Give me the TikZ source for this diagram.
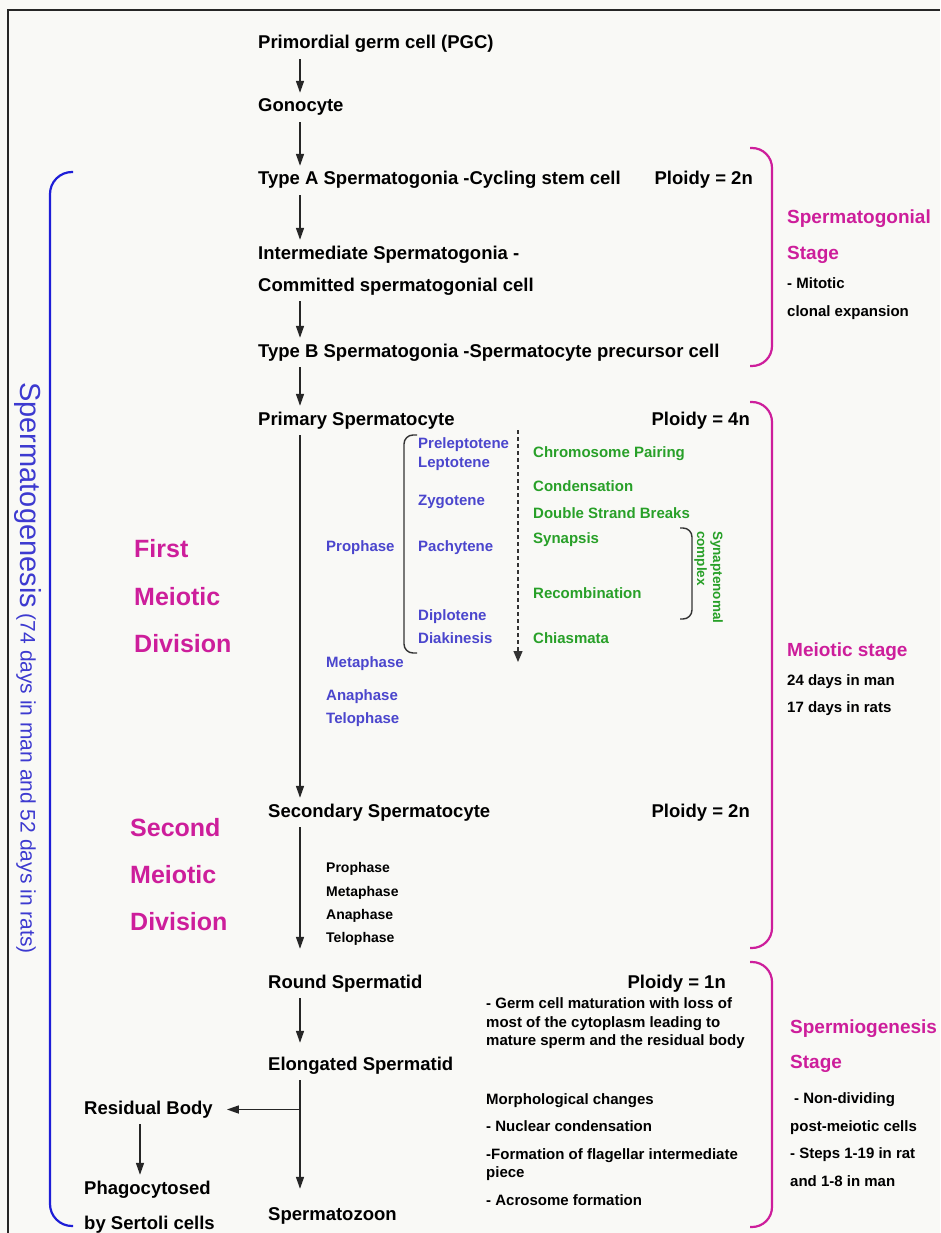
\documentclass[tikz,border=0pt]{standalone}
\usepackage{fontspec}
\setmainfont{Liberation Sans}
\usetikzlibrary{arrows.meta,calc}

\definecolor{stagepink}{RGB}{205,30,155}
\definecolor{phaseblue}{RGB}{75,70,205}
\definecolor{eventgreen}{RGB}{40,160,40}
\definecolor{spanblue}{RGB}{30,30,215}
\definecolor{paper}{RGB}{249,249,246}

\begin{document}
\begin{tikzpicture}[x=1pt,y=-1pt,
  arr/.style={draw=black!85,line width=1.5pt,-{Triangle[length=12pt,width=8pt]},shorten <=4pt,shorten >=4pt},
  cell/.style={anchor=base west,inner xsep=0pt,inner ysep=2pt,text height=13pt,text depth=4pt,font=\fontsize{18.5}{20}\selectfont\bfseries},
  ploidy/.style={cell,anchor=base east},
  phase/.style={anchor=base west,inner sep=0pt,text=phaseblue,font=\fontsize{15}{17}\selectfont\bfseries},
  event/.style={phase,text=eventgreen},
  note/.style={anchor=base west,inner sep=0pt,font=\fontsize{15}{17}\selectfont\bfseries},
  division/.style={anchor=base west,inner sep=0pt,text=stagepink,font=\fontsize{25}{28}\selectfont\bfseries},
  stage/.style={anchor=base west,inner sep=0pt,text=stagepink,font=\fontsize{19}{21}\selectfont\bfseries},
  stagebrace/.style={draw=stagepink,line width=2.2pt,rounded corners=20pt},
  thinbrace/.style={draw=black!80,line width=1.4pt,rounded corners=9pt},
]
  \fill[paper] (0,0) rectangle (940,1233);
  \useasboundingbox (0,0) rectangle (940,1233);
  \draw[line width=2pt,black!85] (8,1233) -- (8,10) -- (940,10);

  % main line of cells
  \node[cell] (pgc) at (258,49) {Primordial germ cell (PGC)};
  \node[cell] (gono) at (258,112) {Gonocyte};
  \node[cell] (typeA) at (258,185) {Type A Spermatogonia -Cycling stem cell};
  \node[ploidy] (ploidyA) at (753,185) {Ploidy = 2n};
  \node[cell] (inter) at (258,259) {Intermediate Spermatogonia -};
  \node[cell] (commit) at (258,291) {Committed spermatogonial cell};
  \node[cell] (typeB) at (258,357) {Type B Spermatogonia -Spermatocyte precursor cell};
  \node[cell] (prim) at (258,425) {Primary Spermatocyte};
  \node[ploidy] (ploidyP) at (750,425) {Ploidy = 4n};
  \node[cell] (sec) at (268,817) {Secondary Spermatocyte};
  \node[ploidy] (ploidyS) at (750,817) {Ploidy = 2n};
  \node[cell] (round) at (268,988) {Round Spermatid};
  \node[ploidy] (ploidyR) at (726,988) {Ploidy = 1n};
  \node[cell] (elong) at (268,1070) {Elongated Spermatid};
  \node[cell] (sperm) at (268,1220) {Spermatozoon};
  \node[cell] (resid) at (84,1114) {Residual Body};
  \node[cell] (phago) at (84,1194) {Phagocytosed};
  \node[cell] (phagob) at (84,1229) {by Sertoli cells};

  \coordinate (ax) at (300,0);
  \draw[arr] (ax |- pgc.south) -- (ax |- gono.north);
  \draw[arr] (ax |- gono.south) -- (ax |- typeA.north);
  \draw[arr] (ax |- typeA.south) -- (ax |- inter.north);
  \draw[arr] (ax |- commit.south) -- (ax |- typeB.north);
  \draw[arr] (ax |- typeB.south) -- (ax |- prim.north);
  \draw[arr] (ax |- prim.south) -- (ax |- sec.north);
  \draw[arr,shorten >=24pt] (ax |- sec.south) -- (ax |- round.north);
  \draw[arr,shorten >=12pt] (ax |- round.south) -- (ax |- elong.north);
  \draw[arr,shorten >=16pt] (ax |- elong.south) -- (ax |- sperm.north);
  \coordinate (branch) at (ax |- resid.east);
  \draw[arr,shorten <=0pt,shorten >=14pt] (branch) -- (resid.east);
  \coordinate (rx) at (140,0);
  \draw[arr] (rx |- resid.south) -- (rx |- phago.north);

  % first meiotic division
  \foreach \w/\y [count=\i] in {Preleptotene/448,Leptotene/467,Zygotene/505,Pachytene/551,Diplotene/620,Diakinesis/643}
    \node[phase] (sub\i) at (418,\y) {\w};
  \node[phase] (proph) at (326,551) {Prophase};
  \foreach \w/\y [count=\i] in {Metaphase/667,Anaphase/700,Telophase/723}
    \node[phase] (late\i) at (326,\y) {\w};
  \foreach \w/\y [count=\i] in {Chromosome Pairing/457,Condensation/491,Double Strand Breaks/518,Synapsis/543,Recombination/598,Chiasmata/643}
    \node[event] (ev\i) at (533,\y) {\w};
  \draw[thinbrace] (417,435) -| (404,544) |- (417,653);
  \draw[thinbrace] (680,528) -| (692,573) |- (680,619);
  \node[rotate=-90,anchor=north west,align=left,inner sep=0pt,text=eventgreen,font=\fontsize{13.5}{16}\selectfont\bfseries] (synlabel) at (723,531) {Synaptenomal\\complex};
  \coordinate (dtop) at (518,430);
  \coordinate (dbot) at (518,662);
  \draw[black!80,line width=1.3pt,dash pattern=on 4pt off 3pt,-{Triangle[length=11pt,width=9pt]}] (dtop) -- (dbot);
  \foreach \w/\y [count=\i] in {First/557,Meiotic/605,Division/652}
    \node[division] (mi\i) at (134,\y) {\w};

  % second meiotic division
  \foreach \w/\y [count=\i] in {Prophase/872,Metaphase/896,Anaphase/919,Telophase/942}
    \node[note,font=\fontsize{14}{16}\selectfont\bfseries] (mii\i) at (326,\y) {\w};
  \foreach \w/\y [count=\i] in {Second/836,Meiotic/883,Division/930}
    \node[division] (miil\i) at (130,\y) {\w};

  % spermiogenesis notes
  \foreach \w/\y [count=\i] in {- Germ cell maturation with loss of/1008,most of the cytoplasm leading to/1027,mature sperm and the residual body/1045,Morphological changes/1104,- Nuclear condensation/1131,-Formation of flagellar intermediate/1159,piece/1177,- Acrosome formation/1205}
    \node[note] (sp\i) at (486,\y) {\w};

  % stages on the right
  \node[stage] (sgonial) at (787,224) {Spermatogonial};
  \node[stage] (sgonialb) at (787,259) {Stage};
  \node[note] (mitotic) at (787,288) {- Mitotic};
  \node[note] (clonal) at (787,316) {clonal expansion};
  \node[stage] (meio) at (787,656) {Meiotic stage};
  \node[note] (man24) at (787,685) {24 days in man};
  \node[note] (rat17) at (787,712) {17 days in rats};
  \node[stage] (smio) at (790,1033) {Spermiogenesis};
  \node[stage] (smiob) at (790,1068) {Stage};
  \node[note] (nondiv) at (794,1103) {- Non-dividing};
  \node[note] (postm) at (790,1131) {post-meiotic cells};
  \node[note] (steps) at (790,1158) {- Steps 1-19 in rat};
  \node[note] (stepsb) at (790,1186) {and 1-8 in man};
  \draw[stagebrace] (750,148) -| (772,256) |- (750,366);
  \draw[stagebrace] (750,402) -| (772,675) |- (750,948);
  \draw[stagebrace] (750,962) -| (772,1094) |- (750,1227);

  % whole span
  \draw[draw=spanblue,line width=2.2pt,rounded corners=22pt] (73,172) -| (50,700) |- (73,1226);
  \node[rotate=-90,inner sep=0pt,text=phaseblue!70!spanblue,font=\fontsize{21}{23}\selectfont] (span) at (28,668) {{\fontsize{29}{31}\selectfont Spermatogenesis} (74 days in man and 52 days in rats)};
\end{tikzpicture}
\end{document}
